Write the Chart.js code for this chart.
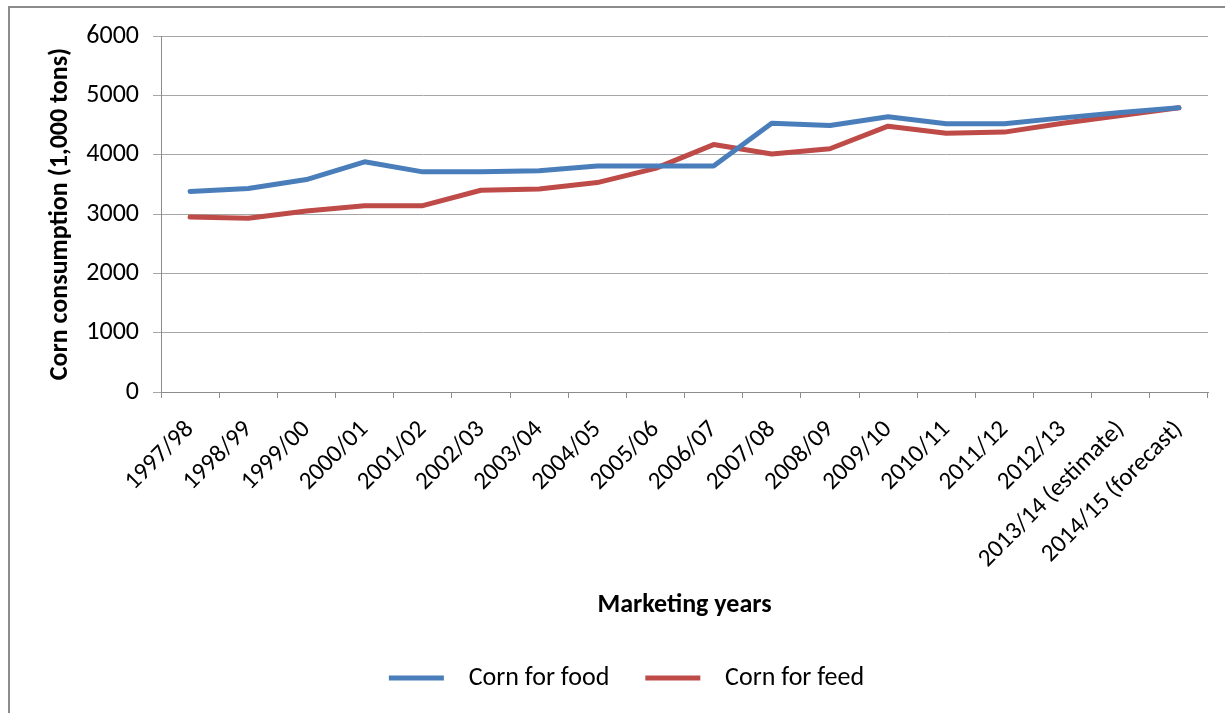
<!DOCTYPE html>
<html>
<head>
<meta charset="utf-8">
<script src="https://cdn.jsdelivr.net/npm/chart.js@4/dist/chart.umd.min.js"></script>
<style>
  html, body { margin: 0; padding: 0; background: #fff; }
  #wrap { position: relative; width: 1225px; height: 713px; overflow: hidden; }
  #frame { position: absolute; left: 8px; top: 6px; width: 1300px; height: 800px;
           border-top: 2px solid #8c8c8c; border-left: 2px solid #8c8c8c; box-sizing: border-box; }
  canvas { position: absolute; left: 0; top: 0; }
</style>
</head>
<body>
<div id="wrap">
  <div id="frame"></div>
  <canvas id="c" width="1225" height="713"></canvas>
</div>
<script>
const categories = ["1997/98","1998/99","1999/00","2000/01","2001/02","2002/03","2003/04","2004/05","2005/06","2006/07","2007/08","2008/09","2009/10","2010/11","2011/12","2012/13","2013/14 (estimate)","2014/15 (forecast)"];
const cornForFood = [3380,3430,3580,3880,3710,3710,3730,3810,3810,3810,4530,4490,4640,4520,4520,4620,4710,4790];
const cornForFeed = [2950,2930,3050,3140,3140,3400,3420,3530,3770,4170,4010,4100,4480,4360,4380,4530,4660,4790];
const yTicks = [0,1000,2000,3000,4000,5000,6000];

const FONT = "Carlito, Lato, 'Open Sans', sans-serif";
const BLUE = '#4A7EBB';
const RED = '#BE4B48';

new Chart(document.getElementById('c'), {
  type: 'line',
  data: {
    labels: categories,
    datasets: [
      { label: 'Corn for food', data: cornForFood, borderColor: BLUE, backgroundColor: BLUE,
        borderWidth: 5, pointRadius: 0, tension: 0, borderCapStyle: 'round', borderJoinStyle: 'round' },
      { label: 'Corn for feed', data: cornForFeed, borderColor: RED, backgroundColor: RED,
        borderWidth: 5, pointRadius: 0, tension: 0, borderCapStyle: 'round', borderJoinStyle: 'round' }
    ]
  },
  options: {
    responsive: false,
    animation: false,
    layout: { padding: { left: 45, right: 17, top: 36, bottom: 12 } },
    plugins: {
      tooltip: { enabled: false },
      legend: {
        position: 'bottom',
        labels: {
          font: { family: FONT, size: 26 },
          color: '#000',
          boxWidth: 55,
          boxHeight: 5,
          padding: 36,
          generateLabels(chart) {
            return chart.data.datasets.map((ds, i) => ({
              text: '  ' + ds.label,
              fillStyle: ds.borderColor,
              strokeStyle: ds.borderColor,
              lineWidth: 0,
              datasetIndex: i,
              hidden: false
            }));
          }
        }
      }
    },
    scales: {
      x: {
        offset: true,
        grid: { display: true, drawOnChartArea: false, offset: true, tickLength: 6, color: '#8c8c8c' },
        border: { color: '#8c8c8c', width: 1 },
        ticks: { autoSkip: false, minRotation: 45, maxRotation: 45, padding: 17,
                 font: { family: FONT, size: 25 }, color: '#000' },
        title: { display: true, text: 'Marketing years', color: '#000',
                 font: { family: FONT, size: 26, weight: 'bold' }, padding: { top: 10, bottom: 8 } },
        afterFit(scale) { scale.height = 237; }
      },
      y: {
        min: 0, max: 6000,
        afterBuildTicks(scale) { scale.ticks = yTicks.map(v => ({ value: v })); },
        grid: { color: '#a6a6a6', tickLength: 8, lineWidth: 1 },
        border: { color: '#8c8c8c', width: 1 },
        ticks: { padding: 14, font: { family: FONT, size: 26 }, color: '#000',
                 callback: (v) => String(v) },
        title: { display: true, text: 'Corn consumption (1,000 tons)', color: '#000',
                 font: { family: FONT, size: 26, weight: 'bold' }, padding: { top: 0, bottom: 0 } },
        afterFit(scale) { scale.width = 116; }
      }
    }
  }
});
</script>
</body>
</html>
